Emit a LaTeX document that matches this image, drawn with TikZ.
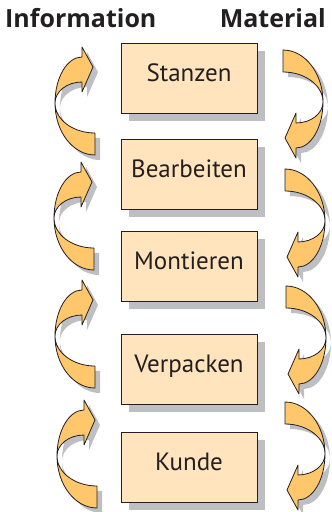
\documentclass[tikz,border=0pt]{standalone}
\usepackage{fontspec}
\setmainfont{PT Sans}
\newfontfamily\headfont{Open Sans}
\usetikzlibrary{shadows}
\definecolor{arrowfill}{RGB}{255,199,108}
\definecolor{boxfill}{RGB}{255,228,190}
\definecolor{shade}{RGB}{190,191,195}
\definecolor{ink}{RGB}{35,31,32}
\tikzset{
  arrowshape/.style={fill=arrowfill, draw=ink, line width=0.8pt, line join=round},
  shadowshape/.style={fill=shade},
  crv/.pic={
    \path[#1] (-38,36) .. controls (-38,64.7) and (-20,88) .. (2,88) -- (2,66)
       .. controls (-20,66) and (-38,52.6) .. (-38,36) -- cycle;
    \path[#1] (-38,36) .. controls (-38,10.6) and (-25.9,-10) .. (-11,-10) -- (-11,-20) -- (0,0)
       -- (-11,25) -- (-11,15) .. controls (-25.9,15) and (-38,24.4) .. (-38,36) -- cycle;
  },
  stepbox/.style={draw=ink, fill=boxfill, line width=0.9pt, minimum width=136pt, minimum height=70pt,
    inner sep=0pt, text=ink, font=\fontsize{25}{29}\selectfont, text height=0.7em, text depth=0pt,
    drop shadow={shadow xshift=8pt, shadow yshift=-8pt, fill=shade, opacity=1}},
  heading/.style={inner sep=0pt, text=ink, font=\headfont\bfseries\fontsize{25}{29}\selectfont}
}
\newcommand\curvarr[3]{%
  \pic[rotate=#3] at (#1+5,#2+5) {crv=shadowshape};
  \pic[rotate=#3] at (#1,#2) {crv=arrowshape};
}
\begin{document}
\begin{tikzpicture}[x=1pt,y=-1pt]
\useasboundingbox (0,0) rectangle (332,512);
\node[heading, anchor=base west] (info) at (5,27) {Information};
\node[heading, anchor=base east] (mat) at (326,27) {Material};
\node[stepbox] (s1) at (189,78) {Stanzen};
\node[stepbox] (s2) at (189,174) {Bearbeiten};
\node[stepbox] (s3) at (189,266) {Montieren};
\node[stepbox] (s4) at (189,369) {Verpacken};
\node[stepbox] (s5) at (189,467) {Kunde};
\curvarr{93}{67}{0}
\curvarr{92}{182}{0}
\curvarr{93}{300}{0}
\curvarr{95}{420}{0}
\curvarr{285}{138}{180}
\curvarr{287}{257}{180}
\curvarr{288}{374}{180}
\curvarr{287}{490}{180}
\end{tikzpicture}
\end{document}
